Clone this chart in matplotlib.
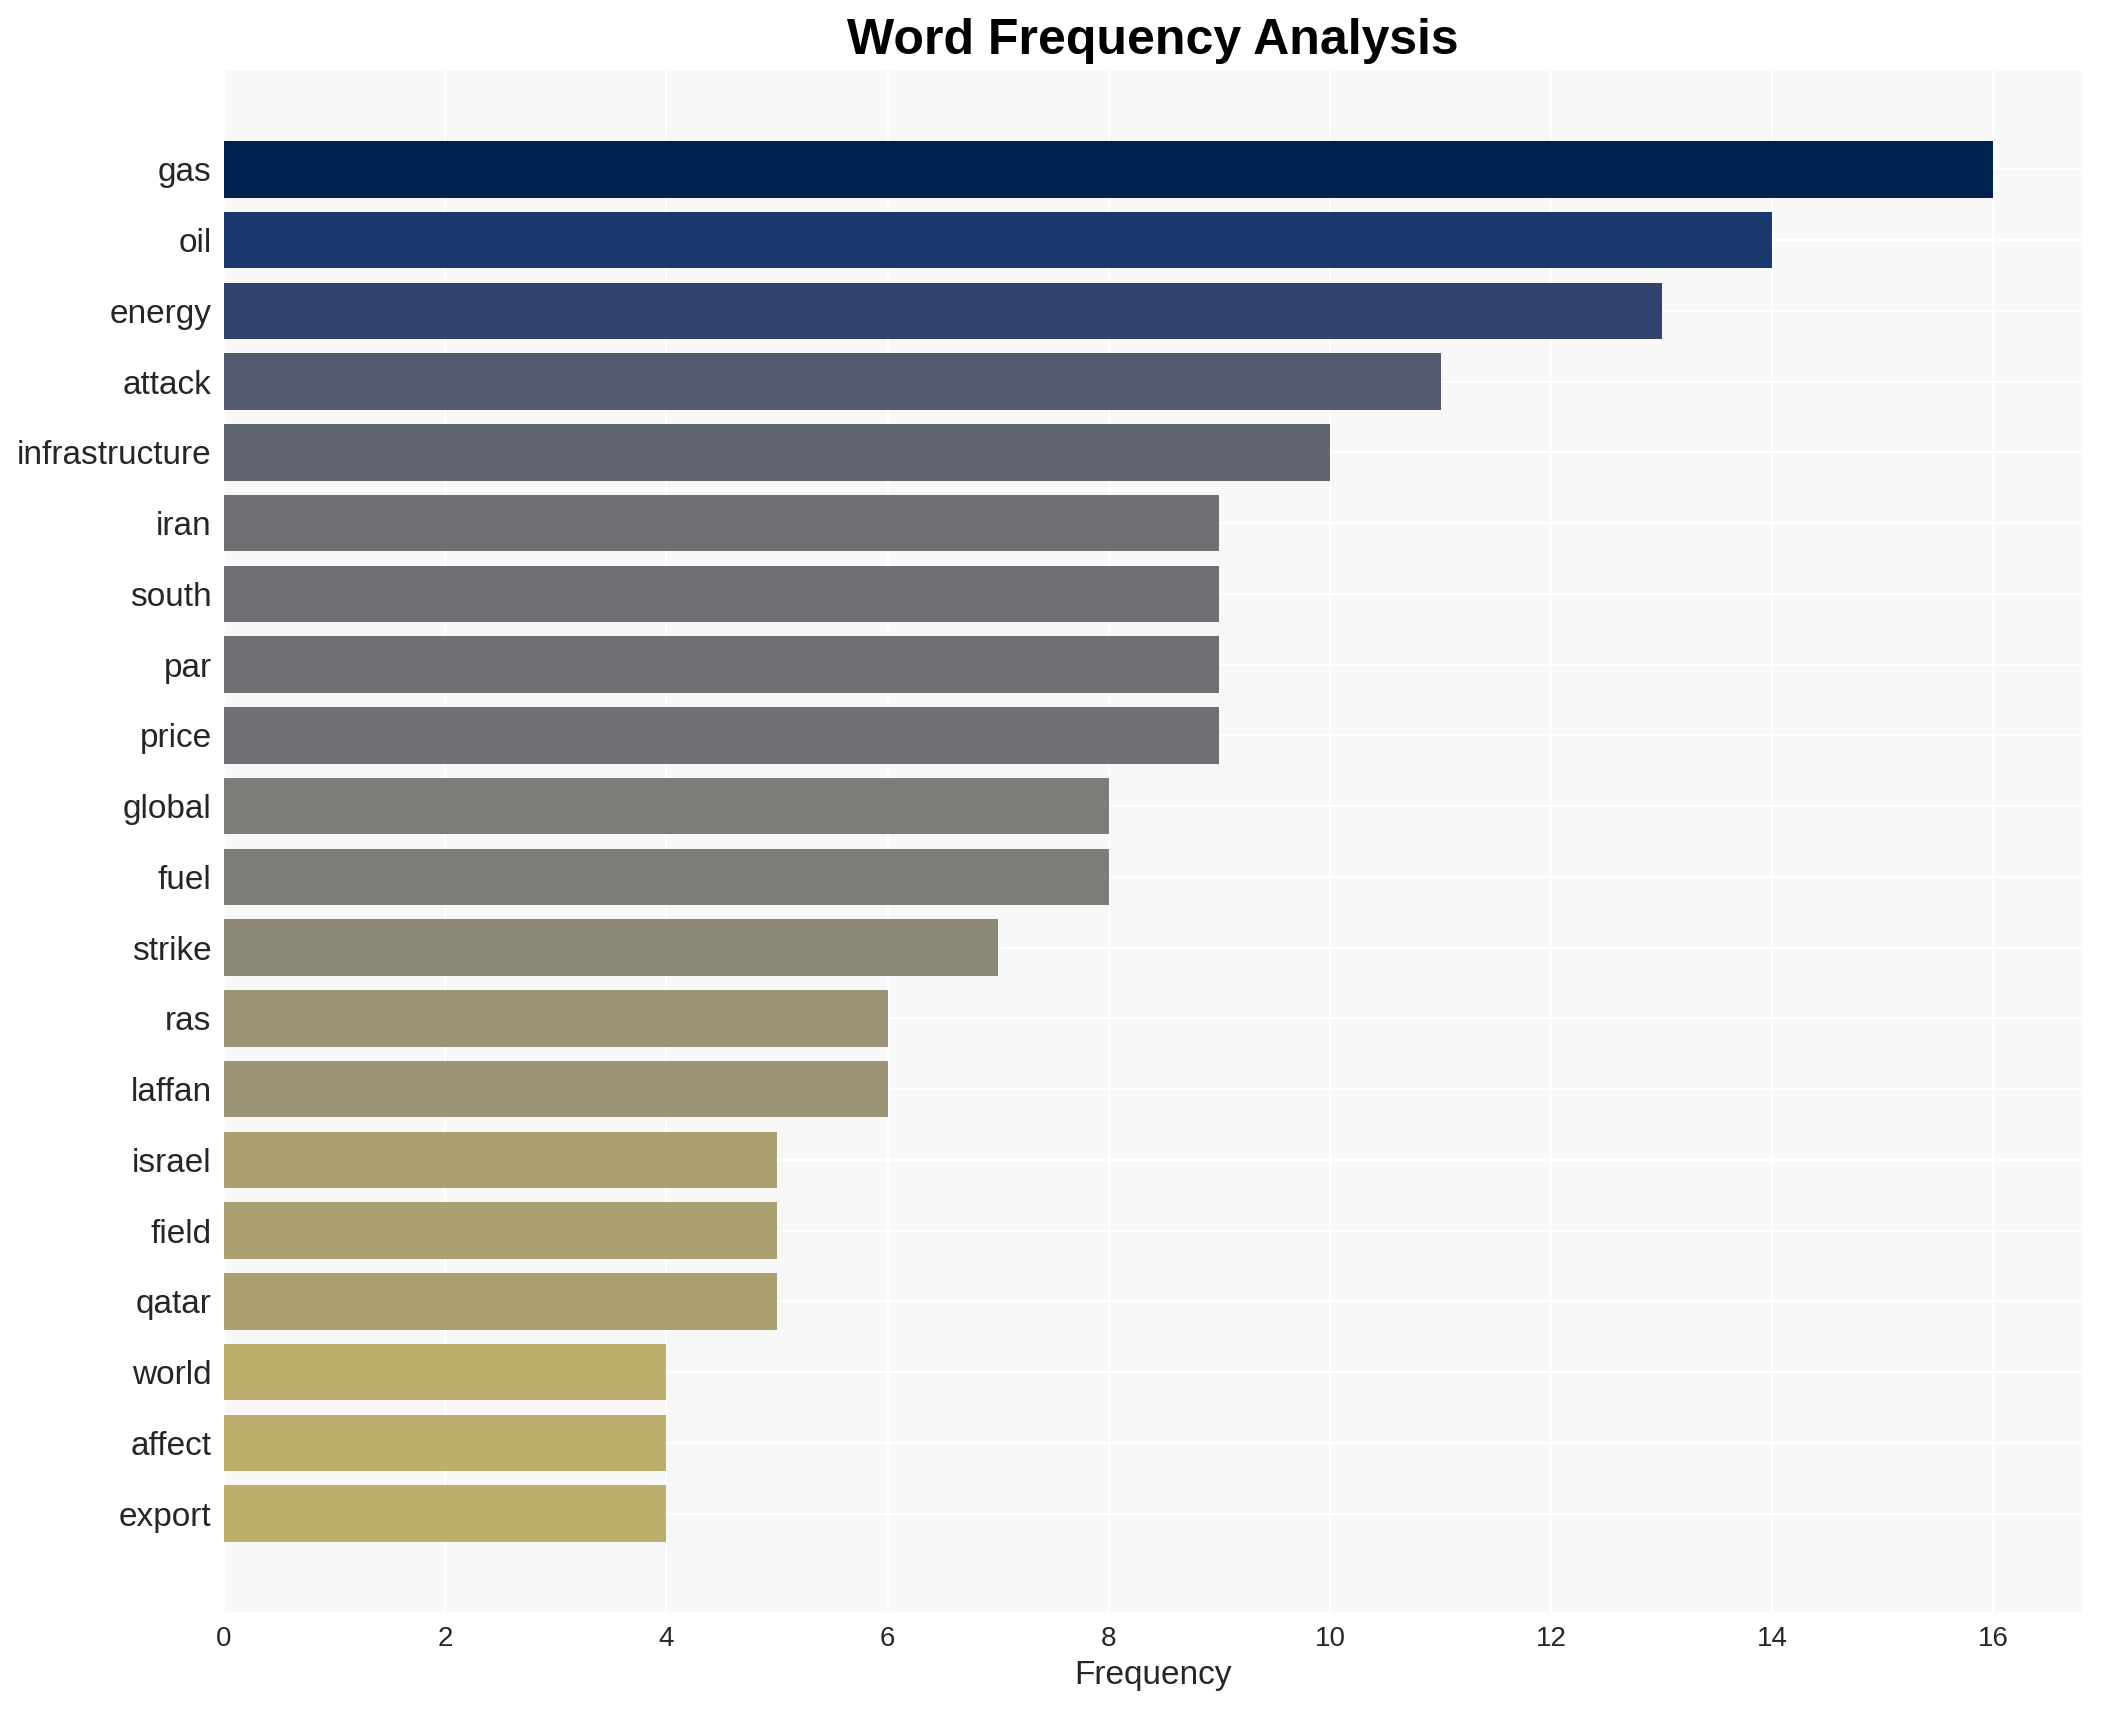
import matplotlib
matplotlib.use('agg')
import matplotlib.pyplot as plt
import numpy as np

words = ['gas', 'oil', 'energy', 'attack', 'infrastructure', 'iran', 'south',
         'par', 'price', 'global', 'fuel', 'strike', 'ras', 'laffan', 'israel',
         'field', 'qatar', 'world', 'affect', 'export']
counts = [16, 14, 13, 11, 10, 9, 9, 9, 9, 8, 8, 7, 6, 6, 5, 5, 5, 4, 4, 4]

plt.rcParams['font.family'] = ['Liberation Sans', 'DejaVu Sans']

fig = plt.figure(figsize=(10.515, 8.55), dpi=200)
ax = fig.add_axes([0.1065, 0.0573, 0.8835, 0.9012])
ax.set_facecolor('#f8f8f8')

counts_arr = np.array(counts)
colors = plt.cm.cividis(1 - counts_arr / counts_arr.max())
y = np.arange(len(words))
ax.barh(y, counts_arr, height=0.8, color=colors, zorder=2)
ax.set_yticks(y)
ax.set_yticklabels(words)
ax.invert_yaxis()

ax.grid(True, color='white', linewidth=0.8, zorder=0)
ax.set_axisbelow(True)
for sp in ax.spines.values():
    sp.set_visible(False)
ax.tick_params(axis='both', length=0, colors='#262626')
ax.tick_params(axis='y', labelsize=12, pad=4.5)
ax.tick_params(axis='x', labelsize=10, pad=5)
ax.set_xticks(np.arange(0, 17, 2))

ax.set_xlabel('Frequency', fontsize=12, color='#262626', labelpad=3)
ax.set_title('Word Frequency Analysis', fontsize=18, fontweight='bold', pad=6)

fig.savefig('out.png', dpi=200)
